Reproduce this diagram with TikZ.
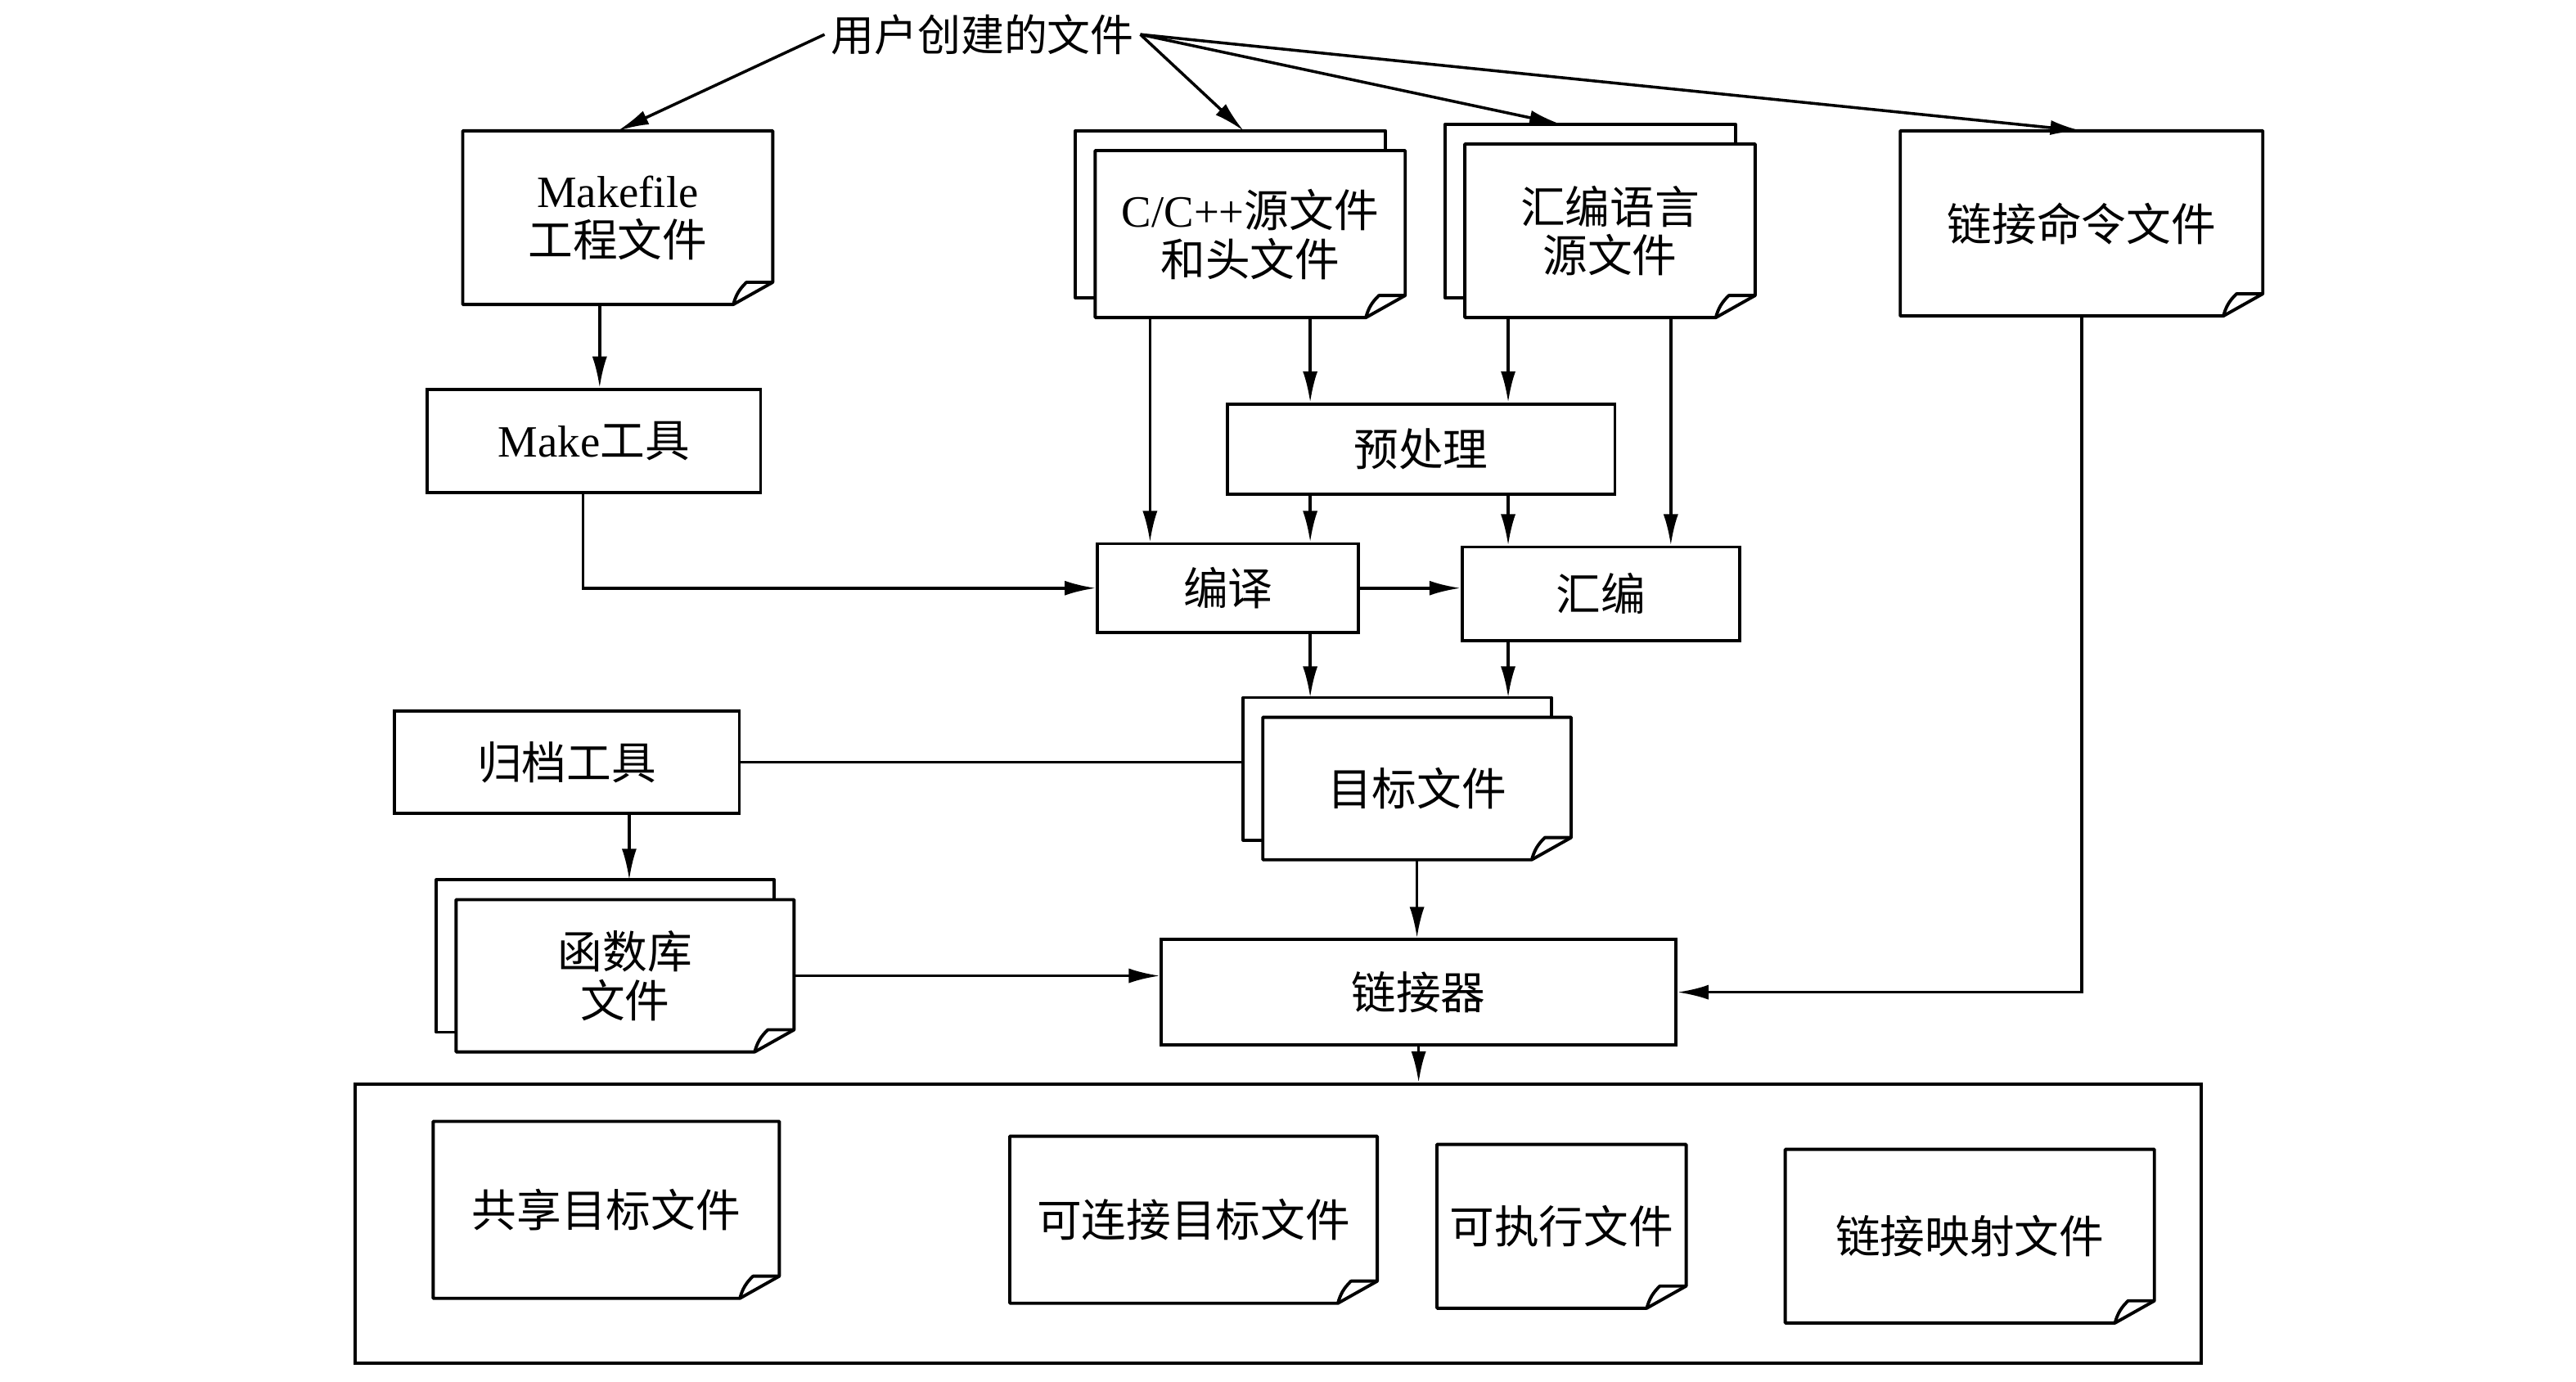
\documentclass[tikz,border=0pt]{standalone}
\usepackage{fontspec}
\setmainfont{Liberation Serif}
\newfontfamily\cjk{Noto Sans CJK SC}
\usetikzlibrary{arrows.meta,calc}
\tikzset{
  basebox/.style={rectangle,align=center,inner sep=2pt,font=\cjk\fontsize{15.5}{17}\selectfont},
  toolnode/.style={basebox,draw,line width=1.1pt},
  docline/.style={line width=1.1pt,line join=round},
  docnode/.style={basebox,append after command={\pgfextra{
      \filldraw[docline,fill=white] (\tikzlastnode.north west) -- (\tikzlastnode.north east)
        -- ([yshift=0.27cm]\tikzlastnode.south east) -- ([xshift=-0.48cm]\tikzlastnode.south east)
        -- (\tikzlastnode.south west) -- cycle;
      \draw[docline] ([yshift=0.27cm]\tikzlastnode.south east)
        -- ([xshift=-0.32cm,yshift=0.27cm]\tikzlastnode.south east)
        to[bend right=15] ([xshift=-0.48cm]\tikzlastnode.south east);}}},
  stacknode/.style={basebox,append after command={\pgfextra{
      \filldraw[docline,fill=white] ([shift={(-0.24,0.24)}]\tikzlastnode.north west)
        rectangle ([shift={(-0.24,0.24)}]\tikzlastnode.south east);}},docnode},
  arr/.style={-{Latex[length=0.38cm,width=0.18cm]},line width=1pt},
  plainline/.style={line width=1pt}
}

\begin{document}
\begin{tikzpicture}
  \useasboundingbox (0,0) rectangle (31.36,-16.816);

  % source files
  \node[basebox,font=\cjk\fontsize{15}{17}\selectfont] (user) at (11.96,-0.42) {用户创建的文件};
  \node[docnode,minimum width=3.76cm,minimum height=2.1cm] (mk) at (7.52,-2.65) {{\rmfamily Makefile}\\工程文件};
  \node[stacknode,minimum width=3.76cm,minimum height=2.02cm] (src) at (15.22,-2.85) {{\rmfamily C/C++}源文件\\和头文件};
  \node[stacknode,minimum width=3.52cm,minimum height=2.1cm] (asmsrc) at (19.6,-2.81) {汇编语言\\源文件};
  \node[docnode,minimum width=4.4cm,minimum height=2.24cm] (lnkcmd) at (25.34,-2.72) {链接命令文件};

  % tools
  \node[toolnode,minimum width=4.06cm,minimum height=1.26cm] (make) at (7.23,-5.37) {{\rmfamily Make}工具};
  \node[toolnode,minimum width=4.72cm,minimum height=1.1cm] (pre) at (17.3,-5.47) {预处理};
  \node[toolnode,minimum width=3.18cm,minimum height=1.08cm] (cc) at (14.95,-7.16) {编译};
  \node[toolnode,minimum width=3.38cm,minimum height=1.14cm] (as) at (19.49,-7.23) {汇编};
  \node[toolnode,minimum width=4.2cm,minimum height=1.24cm] (ar) at (6.9,-9.28) {归档工具};
  \node[stacknode,minimum width=3.74cm,minimum height=1.72cm] (obj) at (17.25,-9.6) {目标文件};
  \node[stacknode,minimum width=4.1cm,minimum height=1.84cm] (lib) at (7.61,-11.88) {函数库\\文件};
  \node[toolnode,minimum width=6.26cm,minimum height=1.28cm] (ld) at (17.27,-12.08) {链接器};

  % outputs
  \node[toolnode,minimum width=22.48cm,minimum height=3.4cm] (outbox) at (15.56,-14.9) {};
  \node[docnode,minimum width=4.2cm,minimum height=2.14cm] (so) at (7.38,-14.73) {共享目标文件};
  \node[docnode,minimum width=4.46cm,minimum height=2.02cm] (rel) at (14.53,-14.85) {可连接目标文件};
  \node[docnode,minimum width=3.02cm,minimum height=1.98cm] (exe) at (19.01,-14.93) {可执行文件};
  \node[docnode,minimum width=4.48cm,minimum height=2.1cm] (map) at (23.98,-15.05) {链接映射文件};

  % columns and back sheets
  \coordinate (colMk) at (7.3,0);
  \coordinate (colMake) at (7.1,0);
  \coordinate (colC) at (14.0,0);
  \coordinate (colA) at (15.95,0);
  \coordinate (colB) at (18.36,0);
  \coordinate (colD) at (20.34,0);
  \coordinate (colAr) at (7.66,0);
  \coordinate (srctop) at ([shift={(-0.08,0.24)}]src.north);
  \coordinate (asmtop) at ([shift={(-0.6,0.24)}]asmsrc.north);
  \coordinate (objtop) at ([yshift=0.24cm]obj.north);
  \coordinate (objback) at ([shift={(-0.24,0.24)}]obj.west);
  \coordinate (libtop) at ([yshift=0.24cm]lib.north);

  \draw[arr] (user.west) -- (mk.north);
  \draw[arr] (user.east) -- (srctop);
  \draw[arr] (user.east) -- (asmtop);
  \draw[arr] (user.east) -- (lnkcmd.north);

  \draw[arr] (colMk |- mk.south) -- (colMk |- make.north);
  \draw[arr] (colC |- src.south) -- (colC |- cc.north);
  \draw[arr] (colA |- src.south) -- (colA |- pre.north);
  \draw[arr] (colB |- asmsrc.south) -- (colB |- pre.north);
  \draw[arr] (colD |- asmsrc.south) -- (colD |- as.north);
  \draw[arr] (colA |- pre.south) -- (colA |- cc.north);
  \draw[arr] (colB |- pre.south) -- (colB |- as.north);
  \draw[arr] (colMake |- make.south) |- (cc.west);
  \draw[arr] (cc.east) -- (cc.east -| as.west);
  \draw[arr] (colA |- cc.south) -- (colA |- objtop);
  \draw[arr] (colB |- as.south) -- (colB |- objtop);
  \draw[plainline] (ar.east) -- (ar.east -| objback);
  \draw[arr] (colAr |- ar.south) -- (colAr |- libtop);
  \draw[arr] (obj.south) -- (obj.south |- ld.north);
  \draw[arr] (lib.east) -- (lib.east -| ld.west);
  \draw[arr] (lnkcmd.south) |- (ld.east);
  \draw[arr] (ld.south) -- (ld.south |- outbox.north);
\end{tikzpicture}
\end{document}
